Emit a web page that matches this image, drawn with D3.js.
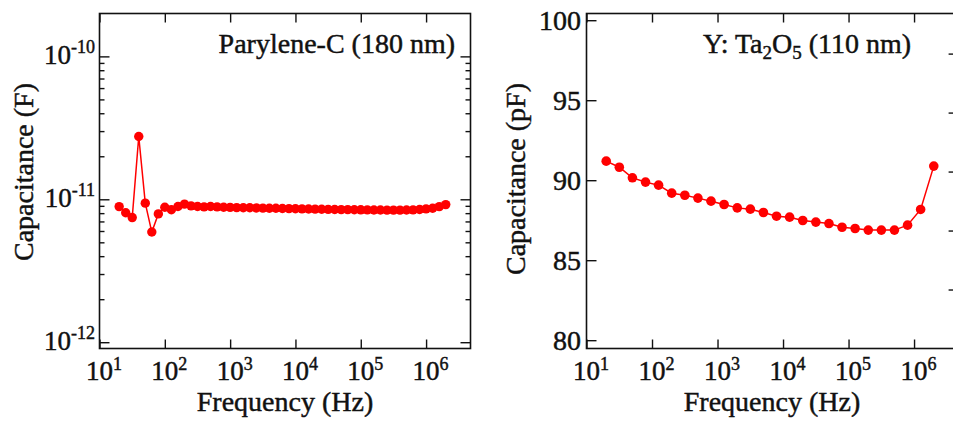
<!DOCTYPE html>
<html>
<head>
<meta charset="utf-8">
<script src="https://cdn.jsdelivr.net/npm/d3@7/dist/d3.min.js"></script>
<style>
  html, body { margin: 0; padding: 0; background: #fff; }
  svg { display: block; }
  text { font-family: "Liberation Serif", "Times New Roman", serif; fill: #111; stroke: #111; stroke-width: 0.45px; }
</style>
</head>
<body>
<svg id="chart" width="953" height="421"></svg>
<script>
// ---- Parylene-C (180 nm): capacitance vs. frequency (F) ----
const freqParylene = [
  20, 25.2, 31.7, 39.9, 50.2, 63.2, 79.6,
  100, 126, 159, 200, 252, 317, 399, 502, 632, 796,
  1e3, 1.26e3, 1.59e3, 2e3, 2.52e3, 3.17e3, 3.99e3, 5.02e3, 6.32e3, 7.96e3,
  1e4, 1.26e4, 1.59e4, 2e4, 2.52e4, 3.17e4, 3.99e4, 5.02e4, 6.32e4, 7.96e4,
  1e5, 1.26e5, 1.59e5, 2e5, 2.52e5, 3.17e5, 3.99e5, 5.02e5, 6.32e5, 7.96e5,
  1e6, 1.26e6, 1.59e6, 2e6
];
const capParylene = [
  8.89e-12, 8.05e-12, 7.45e-12, 2.75e-11, 9.40e-12, 5.90e-12, 7.90e-12,
  8.80e-12, 8.45e-12, 8.90e-12, 9.25e-12, 9.00e-12, 8.90e-12, 8.85e-12, 8.90e-12, 8.85e-12, 8.80e-12,
  8.78e-12, 8.75e-12, 8.72e-12, 8.72e-12, 8.70e-12, 8.68e-12, 8.66e-12, 8.65e-12, 8.62e-12, 8.60e-12,
  8.58e-12, 8.57e-12, 8.55e-12, 8.53e-12, 8.52e-12, 8.50e-12, 8.49e-12, 8.47e-12, 8.46e-12, 8.45e-12,
  8.44e-12, 8.43e-12, 8.42e-12, 8.41e-12, 8.40e-12, 8.40e-12, 8.40e-12, 8.41e-12, 8.43e-12, 8.48e-12,
  8.57e-12, 8.66e-12, 8.88e-12, 9.18e-12
];

// ---- Y: Ta2O5 (110 nm): capacitance vs. frequency (pF) ----
const freqTa2O5 = [
  20, 31.7, 50.2, 79.6, 126, 200, 317, 502, 796,
  1260, 2000, 3170, 5020, 7960, 12600, 20000, 31700, 50200, 79600,
  126000, 200000, 317000, 502000, 796000, 1260000, 2000000
];
const capTa2O5 = [
  91.19, 90.81, 90.15, 89.88, 89.69, 89.19, 89.06, 88.88, 88.69,
  88.48, 88.27, 88.19, 87.98, 87.75, 87.69, 87.48, 87.38, 87.29, 87.06,
  86.98, 86.88, 86.88, 86.88, 87.19, 88.17, 90.88
];

// ---- tick definitions ----
const freqTickExponents = [1, 2, 3, 4, 5, 6];
const logCapTickExponents = [-10, -11, -12];
const linearCapTicks = [80, 85, 90, 95, 100];
const secondaryAxisTicks = [1, 2, 3, 4, 5];

const RED = "#ff0000";
const svg = d3.select("#chart");
svg.append("rect").attr("width", 953).attr("height", 421).attr("fill", "#fff");

const freqDomain = [10, Math.pow(10, 6.68)];

function superLabel(g, x, y, base, exp, anchor, baseSize, supSize, raise) {
  const t = g.append("text").attr("x", x).attr("y", y)
    .attr("text-anchor", anchor).style("font-size", baseSize + "px");
  t.append("tspan").text(base);
  t.append("tspan").attr("dy", -raise).style("font-size", supSize + "px").text(exp);
  return t;
}

function styleAxis(sel) {
  sel.select(".domain").remove();
  sel.selectAll(".tick line").attr("stroke", "#111").attr("stroke-width", 1.4);
  sel.selectAll(".tick text").remove();
}

function frame(g, x0, x1, y0, y1) {
  g.append("rect").attr("x", x0).attr("y", y0)
    .attr("width", x1 - x0).attr("height", y1 - y0)
    .attr("fill", "none").attr("stroke", "#111").attr("stroke-width", 1.6);
}

function xDecadeAxes(g, x, yTop, yBot) {
  const vals = freqTickExponents.map(e => Math.pow(10, e));
  g.append("g").attr("transform", `translate(0,${yBot})`)
    .call(d3.axisBottom(x).tickValues(vals).tickSize(-9).tickFormat(""))
    .call(styleAxis);
  g.append("g").attr("transform", `translate(0,${yTop})`)
    .call(d3.axisTop(x).tickValues(vals).tickSize(-9).tickFormat(""))
    .call(styleAxis);
  freqTickExponents.forEach(e => {
    superLabel(g, x(Math.pow(10, e)) - 13.5, yBot + 31, "10", String(e), "start", 27, 18, 10);
  });
}

function series(g, x, y, xs, ys, r) {
  const pts = xs.map((f, i) => [f, ys[i]]);
  g.append("path").datum(pts)
    .attr("fill", "none").attr("stroke", RED).attr("stroke-width", 1.5)
    .attr("d", d3.line().x(d => x(d[0])).y(d => y(d[1])));
  g.selectAll(null).data(pts).enter().append("circle")
    .attr("cx", d => x(d[0])).attr("cy", d => y(d[1])).attr("r", r)
    .attr("fill", RED);
}

// ================= Left panel =================
{
  const L = { x0: 99.5, x1: 470.5, y0: 13.5, y1: 348.5 };
  const g = svg.append("g");
  const x = d3.scaleLog().domain(freqDomain).range([L.x0, L.x1]);
  const y = d3.scaleLog().domain([Math.pow(10, -12.044), Math.pow(10, -9.70)]).range([L.y1, L.y0]);

  const majors = logCapTickExponents.map(e => Math.pow(10, e));
  const minors = [];
  [-12, -11, -10].forEach(e => {
    for (let m = 2; m <= 9; m++) {
      const v = m * Math.pow(10, e);
      if (v <= y.domain()[1]) minors.push(v);
    }
  });

  [[d3.axisLeft, L.x0], [d3.axisRight, L.x1]].forEach(([ax, px]) => {
    g.append("g").attr("transform", `translate(${px},0)`)
      .call(ax(y).tickValues(majors).tickSize(-10).tickFormat("")).call(styleAxis);
    g.append("g").attr("transform", `translate(${px},0)`)
      .call(ax(y).tickValues(minors).tickSize(-5).tickFormat("")).call(styleAxis);
  });

  xDecadeAxes(g, x, L.y0, L.y1);
  frame(g, L.x0, L.x1, L.y0, L.y1);

  logCapTickExponents.forEach(e => {
    superLabel(g, 95, y(Math.pow(10, e)) + 8, "10", String(e), "end", 27, 18, 11);
  });

  series(g, x, y, freqParylene, capParylene, 4.7);

  g.append("text").attr("x", 455).attr("y", 53).attr("text-anchor", "end")
    .style("font-size", "28px").text("Parylene-C (180 nm)");
  g.append("text").attr("x", 285).attr("y", 411).attr("text-anchor", "middle")
    .style("font-size", "28px").text("Frequency (Hz)");
  g.append("text").attr("transform", "translate(33,172) rotate(-90)")
    .attr("text-anchor", "middle").style("font-size", "28px").text("Capacitance (F)");
}

// ================= Right panel =================
{
  const R = { x0: 586.5, x1: 958.6, y0: 13.5, y1: 348.5 };
  const g = svg.append("g");
  const x = d3.scaleLog().domain(freqDomain).range([R.x0, R.x1]);
  const y = d3.scaleLinear().domain([79.48, 100.42]).range([R.y1, R.y0]);
  const y2 = d3.scaleLinear().domain([0, 5.68]).range([R.y1, R.y0]);

  g.append("g").attr("transform", `translate(${R.x0},0)`)
    .call(d3.axisLeft(y).tickValues(linearCapTicks).tickSize(-10).tickFormat("")).call(styleAxis);
  g.append("g").attr("transform", `translate(${R.x1},0)`)
    .call(d3.axisRight(y2).tickValues(secondaryAxisTicks).tickSize(-10).tickFormat("")).call(styleAxis);

  xDecadeAxes(g, x, R.y0, R.y1);
  frame(g, R.x0, R.x1, R.y0, R.y1);

  linearCapTicks.forEach(v => {
    g.append("text").attr("x", 581).attr("y", y(v) + 9.5).attr("text-anchor", "end")
      .style("font-size", "28px").text(v);
  });

  series(g, x, y, freqTa2O5, capTa2O5, 4.8);

  const t = g.append("text").attr("x", 703).attr("y", 53).style("font-size", "28px");
  t.append("tspan").text("Y: Ta");
  t.append("tspan").attr("dy", 6).style("font-size", "19px").text("2");
  t.append("tspan").attr("dy", -6).text("O");
  t.append("tspan").attr("dy", 6).style("font-size", "19px").text("5");
  t.append("tspan").attr("dy", -6).text(" (110 nm)");

  g.append("text").attr("x", 772).attr("y", 411).attr("text-anchor", "middle")
    .style("font-size", "28px").text("Frequency (Hz)");
  g.append("text").attr("transform", "translate(525,179) rotate(-90)")
    .attr("text-anchor", "middle").style("font-size", "28px").text("Capacitance (pF)");
}
</script>
</body>
</html>
